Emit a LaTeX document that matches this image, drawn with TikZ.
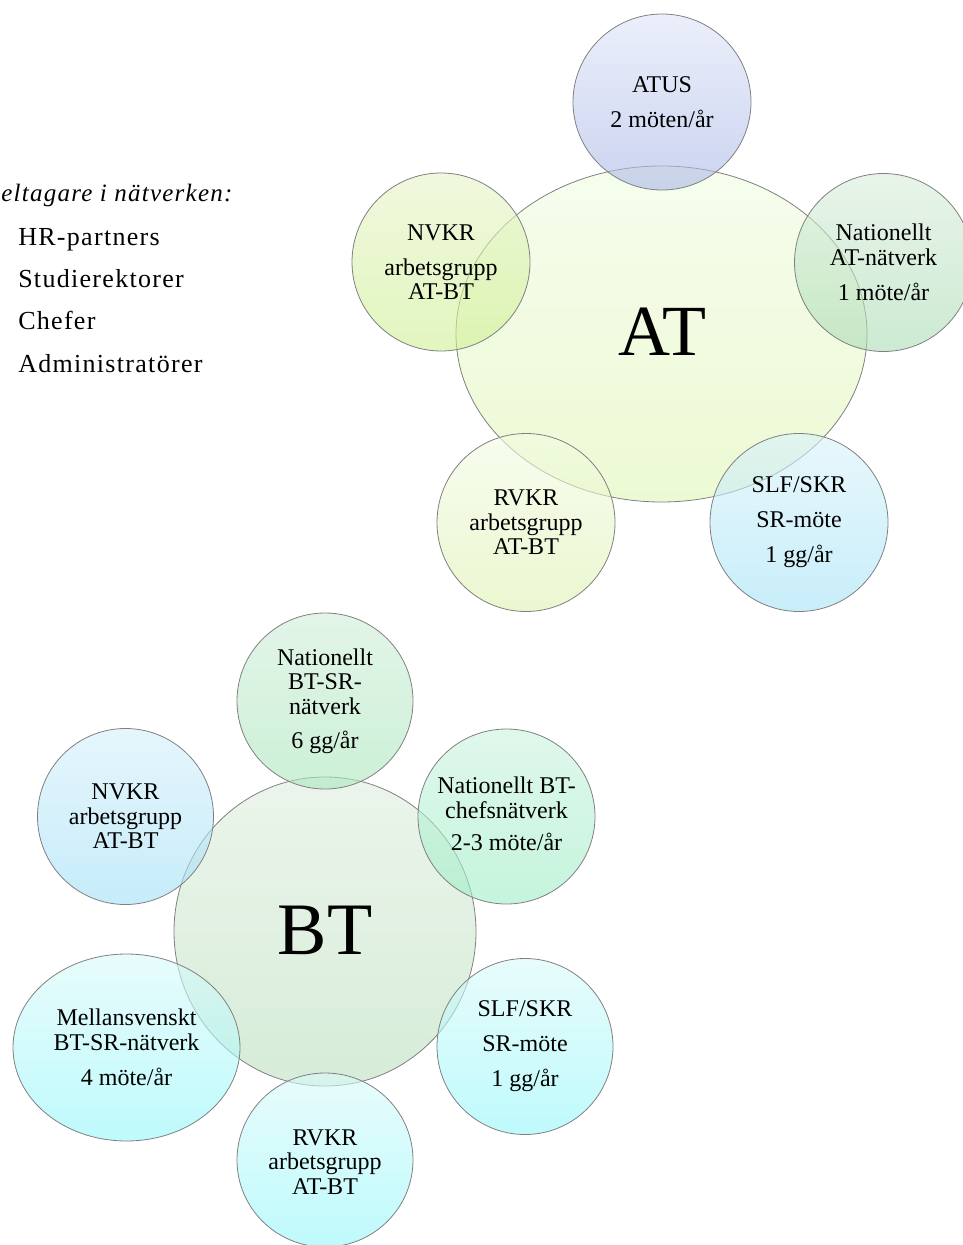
\documentclass[tikz,border=0pt]{standalone}
\usepackage{fontspec}
\setmainfont{Liberation Serif}
\newfontfamily\listfont[LetterSpace=5]{Liberation Serif}
\usepackage{tikz}

\definecolor{atBigTop}{RGB}{240,251,226}
\definecolor{atBigBot}{RGB}{224,246,182}
\definecolor{atusTop}{RGB}{223,228,247}
\definecolor{atusBot}{RGB}{168,183,230}
\definecolor{nvkrAtTop}{RGB}{230,243,200}
\definecolor{nvkrAtBot}{RGB}{207,240,147}
\definecolor{natAtTop}{RGB}{217,237,220}
\definecolor{natAtBot}{RGB}{170,220,180}
\definecolor{rvkrAtTop}{RGB}{242,251,228}
\definecolor{rvkrAtBot}{RGB}{220,242,176}
\definecolor{slfAtTop}{RGB}{217,242,250}
\definecolor{slfAtBot}{RGB}{163,227,247}
\definecolor{btBigTop}{RGB}{223,238,223}
\definecolor{btBigBot}{RGB}{187,223,190}
\definecolor{btsrTop}{RGB}{207,238,217}
\definecolor{btsrBot}{RGB}{170,230,187}
\definecolor{chefTop}{RGB}{203,243,223}
\definecolor{chefBot}{RGB}{157,238,197}
\definecolor{nvkrBtTop}{RGB}{213,240,250}
\definecolor{nvkrBtBot}{RGB}{160,223,247}
\definecolor{cyanTop}{RGB}{217,250,250}
\definecolor{cyanBot}{RGB}{147,247,250}

\begin{document}
\begin{tikzpicture}[x=0.75pt,y=0.75pt,yscale=-1,xscale=1,
  bubble/.style={draw={rgb,255:red,128;green,128;blue,128}, line width=0.6, fill opacity=0.6},
  txt/.style={align=center, inner sep=0pt, font=\fontsize{18}{18.4}\selectfont},
  bigtxt/.style={inner sep=0pt, font=\fontsize{#1}{#1}\selectfont},
  listitem/.style={anchor=base west, inner sep=0pt, font=\listfont\fontsize{19.5}{23}\selectfont}]
\useasboundingbox (0,0) rectangle (963,1245);
\clip (0,0) rectangle (963,1245);

% Text Node
\node[anchor=base west, inner sep=0pt, font=\listfont\itshape\fontsize{18.75}{22}\selectfont] (head) at (1,201) {eltagare i nätverken:};
% Text Node
\node[listitem] (hr) at (18,245) {HR-partners};
% Text Node
\node[listitem] (sr) at (18,287) {Studierektorer};
% Text Node
\node[listitem] (chef) at (18,329) {Chefer};
% Text Node
\node[listitem] (adm) at (18,372) {Administratörer};

%Shape: Ellipse [AT]
\path[bubble, top color=atBigTop, bottom color=atBigBot] (661.5,334) ellipse [x radius=205.5, y radius=168];
%Shape: Ellipse [ATUS]
\path[bubble, top color=atusTop, bottom color=atusBot] (662,102) ellipse [x radius=89, y radius=88];
%Shape: Ellipse [NVKR]
\path[bubble, top color=nvkrAtTop, bottom color=nvkrAtBot] (441,262) ellipse [x radius=89, y radius=89];
%Shape: Ellipse [Nationellt AT]
\path[bubble, top color=natAtTop, bottom color=natAtBot] (883.5,262.5) ellipse [x radius=89, y radius=89];
%Shape: Ellipse [RVKR]
\path[bubble, top color=rvkrAtTop, bottom color=rvkrAtBot] (526,522.5) ellipse [x radius=89, y radius=89];
%Shape: Ellipse [SLF/SKR]
\path[bubble, top color=slfAtTop, bottom color=slfAtBot] (799,522.5) ellipse [x radius=89, y radius=89];

% Text Node
\node[bigtxt=54] (at) at (662,332) {AT};
% Text Node
\node[txt] (atus) at (662,102) {ATUS\\[7.9pt]2 möten/år};
% Text Node
\node[txt] (nvkrat) at (441,262) {NVKR\\[7.9pt]arbetsgrupp\\AT-BT};
% Text Node
\node[txt] (natat) at (883.5,262.5) {Nationellt\\AT-nätverk\\[7.9pt]1 möte/år};
% Text Node
\node[txt] (rvkrat) at (526,522.5) {RVKR\\arbetsgrupp\\AT-BT};
% Text Node
\node[txt] (slfat) at (799,522.5) {SLF/SKR\\[7.9pt]SR-möte\\[7.9pt]1 gg/år};

%Shape: Ellipse [BT]
\path[bubble, top color=btBigTop, bottom color=btBigBot] (325,931.5) ellipse [x radius=151, y radius=154.5];
%Shape: Ellipse [Nationellt BT-SR]
\path[bubble, top color=btsrTop, bottom color=btsrBot] (325,701) ellipse [x radius=88, y radius=88];
%Shape: Ellipse [Nationellt BT-chef]
\path[bubble, top color=chefTop, bottom color=chefBot] (506.5,816.5) ellipse [x radius=88.5, y radius=87.5];
%Shape: Ellipse [NVKR]
\path[bubble, top color=nvkrBtTop, bottom color=nvkrBtBot] (125.5,816.5) ellipse [x radius=88, y radius=88];
%Shape: Ellipse [Mellansvenskt]
\path[bubble, top color=cyanTop, bottom color=cyanBot] (126.5,1047.5) ellipse [x radius=113.5, y radius=93.5];
%Shape: Ellipse [SLF/SKR]
\path[bubble, top color=cyanTop, bottom color=cyanBot] (525,1046.5) ellipse [x radius=88, y radius=88];
%Shape: Ellipse [RVKR]
\path[bubble, top color=cyanTop, bottom color=cyanBot] (325,1160) ellipse [x radius=88, y radius=87];

% Text Node
\node[bigtxt=55.5] (bt) at (325,930) {BT};
% Text Node
\node[txt] (btsr) at (325,701) {Nationellt\\BT-SR-\\nätverk\\[7pt]6 gg/år};
% Text Node
\node[txt] (chefbt) at (506.5,814) {Nationellt BT-\\chefsnätverk\\[6pt]2-3 möte/år};
% Text Node
\node[txt] (nvkrbt) at (125.5,816.5) {NVKR\\arbetsgrupp\\AT-BT};
% Text Node
\node[txt] (mell) at (126.5,1047.5) {Mellansvenskt\\BT-SR-nätverk\\[7.9pt]4 möte/år};
% Text Node
\node[txt] (slfbt) at (525,1046.5) {SLF/SKR\\[7.9pt]SR-möte\\[7.9pt]1 gg/år};
% Text Node
\node[txt] (rvkrbt) at (325,1162) {RVKR\\arbetsgrupp\\AT-BT};

\end{tikzpicture}
\end{document}
